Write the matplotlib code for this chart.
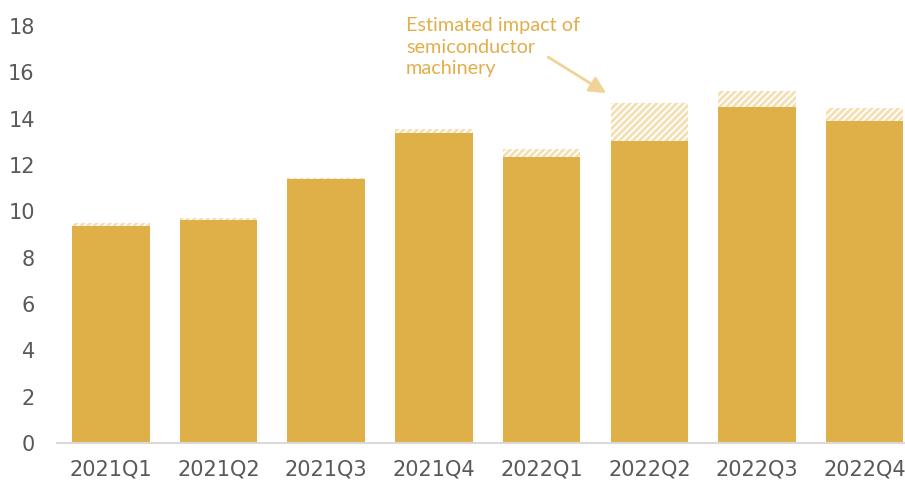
import numpy as np
import matplotlib.pyplot as plt

# Quarterly values: reported level and estimated level incl. semiconductor machinery
quarters = ["2021Q1", "2021Q2", "2021Q3", "2021Q4",
            "2022Q1", "2022Q2", "2022Q3", "2022Q4"]
base_vals = [9.38, 9.62, 11.38, 13.38, 12.35, 13.03, 14.50, 13.91]
total_vals = [9.48, 9.70, 11.44, 13.55, 12.69, 14.67, 15.19, 14.46]
yticks = [0, 2, 4, 6, 8, 10, 12, 14, 16, 18]

bar_col = "#E0B048"
hatch_col = "#F4DFB3"
text_col = "#E3AE4A"

plt.rcParams["hatch.linewidth"] = 2.0
plt.rcParams["hatch.color"] = hatch_col

fig = plt.figure(figsize=(9.05, 4.86), dpi=100)
ax = fig.add_axes([0.063, 0.0885, 0.952, 0.858])

ind = np.arange(len(quarters))
width = 0.72
extra = np.array(total_vals) - np.array(base_vals)
ax.bar(ind, extra, width, bottom=base_vals, color="white", edgecolor=hatch_col,
       hatch="/////", linewidth=0)
ax.bar(ind, base_vals, width, color=bar_col, linewidth=0)

ax.set_xlim(-0.5, len(quarters) - 0.5)
ax.set_ylim(0, 18)
ax.set_yticks(yticks)
ax.set_xticks(ind)
ax.set_xticklabels(quarters)
ax.tick_params(axis="both", length=0, labelsize=15, labelcolor="#595959")
ax.tick_params(axis="y", pad=16)
ax.tick_params(axis="x", pad=12)
for s in ["top", "right", "left"]:
    ax.spines[s].set_visible(False)
ax.spines["bottom"].set_color("#D9D9D9")
ax.spines["bottom"].set_linewidth(1.5)

# Annotation for the hatched portion
ax.text(2.74, 17.09, "Estimated impact of\nsemiconductor\nmachinery",
        ha="left", va="center", color=text_col, fontsize=14.3,
        family="Lato", linespacing=1.3)
ax.annotate("", xy=(4.6, 15.1), xytext=(4.06, 16.66),
            arrowprops=dict(arrowstyle="-|>,head_length=1.0,head_width=0.5",
                            color="#F0D398", lw=2, shrinkA=0, shrinkB=0))

fig.savefig("out.png", dpi=100)
